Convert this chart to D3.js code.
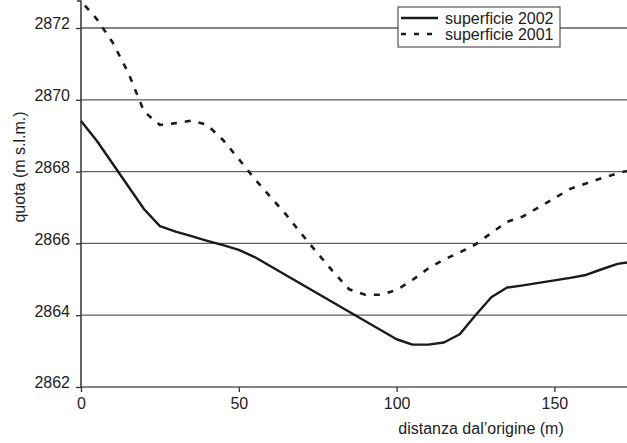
<!DOCTYPE html>
<html>
<head>
<meta charset="utf-8">
<script src="https://cdn.jsdelivr.net/npm/d3@7"></script>
<style>
  body { margin: 0; background: #fff; }
  text { font-family: "Liberation Sans", Arial, sans-serif; fill: #222; }
</style>
</head>
<body>
<script>
let width = 627;
let height = 443;

// distanza dall'origine (m)
let distances2001 = [0, 5, 10, 15, 20, 25, 30, 35, 40, 45, 50, 55, 60, 65, 70, 75, 80, 85,
  90, 95, 100, 105, 110, 115, 120, 125, 130, 135, 140, 145, 150, 155, 160, 165, 170, 173];
let quota2001 = [2872.75, 2872.25, 2871.6, 2870.75, 2869.67, 2869.3, 2869.35, 2869.42, 2869.3,
  2868.88, 2868.35, 2867.8, 2867.3, 2866.8, 2866.25, 2865.72, 2865.2, 2864.72,
  2864.57, 2864.57, 2864.7, 2864.98, 2865.3, 2865.55, 2865.75, 2865.97, 2866.29, 2866.6,
  2866.75, 2867.0, 2867.26, 2867.52, 2867.67, 2867.82, 2867.95, 2868.02];

let distances2002 = [0, 5, 20, 25, 30, 35, 40, 45, 50, 55, 100, 105, 110, 115, 120, 125,
  130, 135, 140, 145, 150, 155, 160, 165, 170, 173];
let quota2002 = [2869.41, 2868.86, 2866.95, 2866.48, 2866.33, 2866.2, 2866.07, 2865.95, 2865.82,
  2865.62, 2863.33, 2863.18, 2863.18, 2863.24, 2863.47, 2864.0, 2864.5, 2864.77, 2864.83,
  2864.9, 2864.97, 2865.04, 2865.12, 2865.28, 2865.43, 2865.47];

let yTicks = [2862, 2864, 2866, 2868, 2870, 2872];
let xTicks = [0, 50, 100, 150];
let seriesNames = ["superficie 2002", "superficie 2001"];

let svg = d3.select("body").append("svg")
  .attr("width", width)
  .attr("height", height);

let x = d3.scaleLinear().domain([0, 173]).range([81, 627]);
let y = d3.scaleLinear().domain([2862, 2872.78]).range([387, 0]);

// gridlines
svg.append("g").selectAll("line").data(yTicks).enter().append("line")
  .attr("x1", x(0)).attr("x2", width)
  .attr("y1", d => y(d)).attr("y2", d => y(d))
  .attr("stroke", "#5e5e5e").attr("stroke-width", 1.3);

// y axis
let yAxis = svg.append("g")
  .attr("transform", `translate(${x(0)},0)`)
  .call(d3.axisLeft(y).tickValues(yTicks).tickSize(5).tickPadding(6).tickFormat(d3.format("d")));
yAxis.select(".domain").attr("d", `M-4,1H0V${y(2862)}`).attr("stroke", "#333").attr("stroke-width", 1.5);
yAxis.selectAll(".tick line").attr("stroke", "#333").attr("stroke-width", 1.3);
yAxis.selectAll(".tick text").style("font-size", "16px").attr("dy", "0.05em");
yAxis.attr("font-family", null).attr("font-size", null);

// x axis
let xAxis = svg.append("g")
  .attr("transform", `translate(0,${y(2862)})`)
  .call(d3.axisBottom(x).tickValues(xTicks).tickSize(5).tickPadding(6));
xAxis.select(".domain").remove();
xAxis.selectAll(".tick line").attr("stroke", "#333").attr("stroke-width", 1.3);
xAxis.selectAll(".tick text").style("font-size", "16px");
xAxis.attr("font-family", null).attr("font-size", null);

let line = d3.line().x(d => x(d[0])).y(d => y(d[1]));

svg.append("path")
  .datum(d3.zip(distances2001, quota2001))
  .attr("d", line)
  .attr("fill", "none")
  .attr("stroke", "#1a1a1a")
  .attr("stroke-width", 2.6)
  .attr("stroke-dasharray", "6,8")
  .attr("stroke-dashoffset", -6);

svg.append("path")
  .datum(d3.zip(distances2002, quota2002))
  .attr("d", line)
  .attr("fill", "none")
  .attr("stroke", "#1a1a1a")
  .attr("stroke-width", 2.4)
  .attr("stroke-linejoin", "round");

// axis titles
svg.append("text")
  .attr("transform", "translate(25,167) rotate(-90)")
  .attr("text-anchor", "middle")
  .style("font-size", "16px")
  .text("quota (m s.l.m.)");

svg.append("text")
  .attr("x", 481).attr("y", 434)
  .attr("text-anchor", "middle")
  .style("font-size", "16px")
  .text("distanza dal’origine (m)");

// legend
let legend = svg.append("g").attr("transform", "translate(398,7)");
legend.append("rect")
  .attr("width", 162).attr("height", 40)
  .attr("fill", "#fff").attr("stroke", "#333").attr("stroke-width", 1);
let rows = legend.selectAll(".row").data(seriesNames).enter().append("g")
  .attr("class", "row")
  .attr("transform", (d, i) => `translate(0,${11 + i * 16})`);
rows.append("line")
  .attr("x1", 3).attr("x2", 40)
  .attr("stroke", "#1a1a1a").attr("stroke-width", 2.6)
  .attr("stroke-dasharray", (d, i) => i ? "5,8" : null);
rows.append("text")
  .attr("x", 47).attr("dy", "0.35em")
  .style("font-size", "16px")
  .text(d => d);
</script>
</body>
</html>
